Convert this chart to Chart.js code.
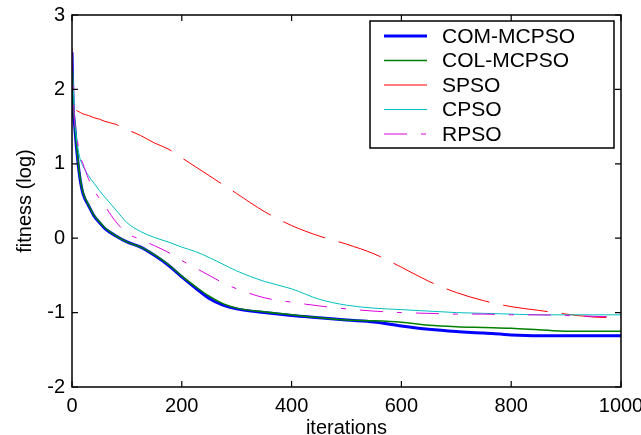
<!DOCTYPE html>
<html>
<head>
<meta charset="utf-8">
<script src="https://cdn.jsdelivr.net/npm/chart.js@4/dist/chart.umd.min.js"></script>
<style>
  html, body { margin: 0; padding: 0; background: #ffffff; }
  #wrap { width: 641px; height: 435px; }
</style>
</head>
<body>
<div id="wrap"><canvas id="c" width="641" height="435"></canvas></div>
<script>
// ---- data ----
const iterations = [0, 2, 5, 10, 15, 20, 30, 40, 50, 60, 80, 100, 125, 150, 175, 200, 225, 250, 275, 300, 350, 400, 450, 500, 550, 600, 650, 700, 750, 800, 850, 900, 950, 1000];

const comMcpso = [2.50, 1.80, 1.50, 1.08, 0.78, 0.60, 0.44, 0.30, 0.21, 0.13, 0.03, -0.05, -0.12, -0.23, -0.36, -0.52, -0.67, -0.81, -0.90, -0.95, -1.00, -1.04, -1.07, -1.10, -1.125, -1.18, -1.225, -1.255, -1.275, -1.30, -1.31, -1.31, -1.31, -1.31];
const colMcpso = [2.45, 1.85, 1.55, 1.12, 0.80, 0.62, 0.45, 0.31, 0.22, 0.14, 0.03, -0.05, -0.12, -0.22, -0.35, -0.51, -0.65, -0.78, -0.88, -0.94, -0.99, -1.03, -1.07, -1.10, -1.11, -1.13, -1.17, -1.19, -1.20, -1.21, -1.23, -1.25, -1.25, -1.25];
const spso     = [2.50, 2.00, 1.75, 1.71, 1.69, 1.67, 1.65, 1.62, 1.60, 1.57, 1.53, 1.46, 1.38, 1.28, 1.20, 1.08, 0.96, 0.84, 0.72, 0.60, 0.36, 0.17, 0.03, -0.08, -0.21, -0.39, -0.58, -0.73, -0.84, -0.92, -0.97, -1.02, -1.06, -1.07];
const cpso     = [2.50, 2.10, 1.60, 1.25, 1.06, 0.97, 0.84, 0.74, 0.64, 0.55, 0.38, 0.21, 0.09, 0.01, -0.05, -0.12, -0.18, -0.26, -0.35, -0.44, -0.58, -0.68, -0.82, -0.90, -0.94, -0.96, -0.98, -1.00, -1.01, -1.02, -1.03, -1.03, -1.03, -1.03];
const rpso     = [2.55, 2.00, 1.55, 1.30, 1.10, 1.00, 0.80, 0.65, 0.53, 0.43, 0.22, 0.07, -0.02, -0.10, -0.19, -0.30, -0.40, -0.50, -0.60, -0.68, -0.80, -0.86, -0.91, -0.95, -0.98, -1.00, -1.01, -1.02, -1.02, -1.03, -1.03, -1.04, -1.05, -1.06];

const seriesNames = ["COM-MCPSO", "COL-MCPSO", "SPSO", "CPSO", "RPSO"];
const xTicks = [0, 200, 400, 600, 800, 1000];
const yTicks = [-2, -1, 0, 1, 2, 3];

const FONT = "'Liberation Sans', Arial, Helvetica, sans-serif";

function pts(vals) { return iterations.map((it, i) => ({ x: it, y: vals[i] })); }

const datasets = [
  { label: seriesNames[0], data: pts(comMcpso), borderColor: "#0000ff", borderWidth: 3, order: 5 },
  { label: seriesNames[1], data: pts(colMcpso), borderColor: "#008000", borderWidth: 1.5, order: 4 },
  { label: seriesNames[2], data: pts(spso), borderColor: "#ff0000", borderWidth: 1, borderDash: [45, 14], order: 3 },
  { label: seriesNames[3], data: pts(cpso), borderColor: "#00bfbf", borderWidth: 1, order: 2 },
  { label: seriesNames[4], data: pts(rpso), borderColor: "#e000e0", borderWidth: 1, borderDash: [23, 14, 5, 14], order: 1 }
].map(d => Object.assign({ pointRadius: 0, cubicInterpolationMode: "monotone", fill: false }, d));

const boxPlugin = {
  id: "matlabBox",
  afterDatasetsDraw(chart) {
    const { ctx, chartArea: a, scales } = chart;
    const xs = scales.x, ys = scales.y;
    ctx.save();
    ctx.strokeStyle = "#000";
    ctx.lineWidth = 1.5;
    ctx.strokeRect(a.left, a.top, a.right - a.left, a.bottom - a.top);
    ctx.lineWidth = 1.2;
    const tl = 6;
    ctx.beginPath();
    xTicks.forEach(v => {
      const p = xs.getPixelForValue(v);
      ctx.moveTo(p, a.bottom); ctx.lineTo(p, a.bottom - tl);
      ctx.moveTo(p, a.top); ctx.lineTo(p, a.top + tl);
    });
    yTicks.forEach(v => {
      const p = ys.getPixelForValue(v);
      ctx.moveTo(a.left, p); ctx.lineTo(a.left + tl, p);
      ctx.moveTo(a.right, p); ctx.lineTo(a.right - tl, p);
    });
    ctx.stroke();
    ctx.restore();
  },
  afterDraw(chart) {
    const { ctx } = chart;
    const bx = 370, by = 21, bw = 244, bh = 127;
    ctx.save();
    ctx.fillStyle = "#fff";
    ctx.fillRect(bx, by, bw, bh);
    ctx.strokeStyle = "#000";
    ctx.lineWidth = 1.5;
    ctx.strokeRect(bx, by, bw, bh);
    ctx.font = "21px " + FONT;
    ctx.textBaseline = "middle";
    ctx.textAlign = "left";
    chart.data.datasets.forEach((d, i) => {
      const y = 36 + i * 24.5;
      ctx.beginPath();
      ctx.strokeStyle = d.borderColor;
      ctx.lineWidth = d.borderWidth;
      ctx.setLineDash(d.borderDash || []);
      ctx.moveTo(384, y); ctx.lineTo(427, y);
      ctx.stroke();
      ctx.setLineDash([]);
      ctx.fillStyle = "#000";
      ctx.fillText(d.label, 442, y + 1);
    });
    ctx.restore();
  }
};

new Chart(document.getElementById("c"), {
  type: "line",
  data: { datasets },
  options: {
    responsive: false,
    animation: false,
    devicePixelRatio: 1,
    layout: { padding: { top: 15, right: 20, left: 0, bottom: 0 } },
    plugins: { legend: { display: false }, tooltip: { enabled: false } },
    scales: {
      x: {
        type: "linear", min: 0, max: 1000,
        afterFit(s) { s.height = 48; s.paddingLeft = 0; s.paddingRight = 0; },
        afterBuildTicks(s) { s.ticks = xTicks.map(v => ({ value: v })); },
        grid: { display: false, drawTicks: false },
        border: { display: false },
        ticks: { color: "#000", padding: 7, maxRotation: 0, callback: v => String(v), font: { family: FONT, size: 20 } },
        title: { display: true, text: "iterations", color: "#000", padding: { top: 0, bottom: 0 }, font: { family: FONT, size: 20, lineHeight: 0.7 } }
      },
      y: {
        type: "linear", min: -2, max: 3,
        afterFit(s) { s.width = 72; s.paddingTop = 0; s.paddingBottom = 0; },
        afterBuildTicks(s) { s.ticks = yTicks.map(v => ({ value: v })); },
        grid: { display: false, drawTicks: false },
        border: { display: false },
        ticks: { color: "#000", padding: 7, callback: v => String(v), font: { family: FONT, size: 20 } },
        title: { display: true, text: "fitness (log)", color: "#000", padding: { top: 13, bottom: 0 }, font: { family: FONT, size: 20 } }
      }
    }
  },
  plugins: [boxPlugin]
});
</script>
</body>
</html>
